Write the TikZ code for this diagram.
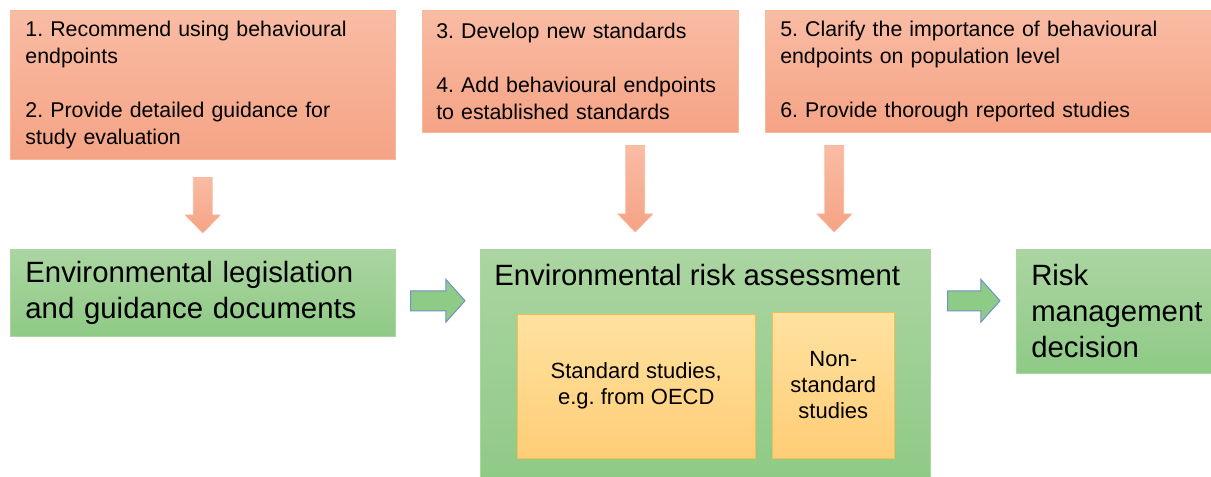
\documentclass[tikz,border=0pt]{standalone}
\usepackage{fontspec}
\setmainfont{Liberation Sans}
\frenchspacing
\usetikzlibrary{calc}

\definecolor{salmontop}{RGB}{249,188,164}
\definecolor{salmonbot}{RGB}{245,163,133}
\definecolor{salmonline}{RGB}{247,184,156}
\definecolor{greentop}{RGB}{171,213,161}
\definecolor{greenbot}{RGB}{143,202,134}
\definecolor{greenline}{RGB}{170,214,160}
\definecolor{ambertop}{RGB}{255,226,160}
\definecolor{amberbot}{RGB}{255,205,118}
\definecolor{amberline}{RGB}{246,190,82}
\definecolor{arrowgreen}{RGB}{141,203,134}
\definecolor{arrowblue}{RGB}{112,146,196}

\tikzset{
  topbox/.style={draw=salmonline, top color=salmontop, bottom color=salmonbot,
    anchor=north west, align=left, inner xsep=11.25pt, inner ysep=0pt,
    font=\fontsize{16}{20.25}\selectfont},
  greenbox/.style={draw=greenline, top color=greentop, bottom color=greenbot,
    anchor=north west, align=left, inner xsep=11.25pt, inner ysep=0pt,
    font=\fontsize{22}{27}\selectfont},
  studybox/.style={draw=amberline, top color=ambertop, bottom color=amberbot,
    anchor=north west, align=center, inner sep=0pt,
    font=\fontsize{16.5}{19.5}\selectfont},
  orangearrow/.style={draw=salmonline, top color=salmontop, bottom color=salmonbot, line width=0.5pt},
  greenarrow/.style={draw=arrowblue, fill=arrowgreen, line width=0.75pt}
}

% block arrows: #1 start, #2 tip
\newcommand{\blockdown}[2]{%
  \path[orangearrow] let \p1=(#1), \p2=(#2) in
    (\x1-7.1pt,\y1) -- (\x1+7.1pt,\y1) -- (\x1+7.1pt,\y2+13.5pt) -- (\x1+13.1pt,\y2+13.5pt)
    -- (\x1,\y2) -- (\x1-13.1pt,\y2+13.5pt) -- (\x1-7.1pt,\y2+13.5pt) -- cycle;}
\newcommand{\blockright}[2]{%
  \path[greenarrow] let \p1=(#1), \p2=(#2) in
    (\x1,\y1+7.5pt) -- (\x2-14.3pt,\y1+7.5pt) -- (\x2-14.3pt,\y1+16pt) -- (\x2,\y1)
    -- (\x2-14.3pt,\y1-16pt) -- (\x2-14.3pt,\y1-7.5pt) -- (\x1,\y1-7.5pt) -- cycle;}

\begin{document}
\begin{tikzpicture}[x=0.75pt,y=-0.75pt]
  \useasboundingbox (0,0) rectangle (1211,477);

  % recommendations
  \node[topbox, minimum width=288.75pt, minimum height=111.75pt, text width=266pt] (rec) at (10,10)
    {1. Recommend using behavioural\\endpoints\\[20.25pt]2. Provide detailed guidance for\\study evaluation};
  \node[topbox, minimum width=237pt, minimum height=91.5pt, text width=216pt, inner xsep=10.5pt] (std) at (422,10)
    {3. Develop new standards\\[20.25pt]4. Add behavioural endpoints\\to established standards};
  \node[topbox, minimum width=337.5pt, minimum height=91.5pt, text width=315pt] (pop) at (765,10)
    {5. Clarify the importance of behavioural\\endpoints on population level\\[20.25pt]6. Provide thorough reported studies};

  % process
  \node[greenbox, minimum width=288.75pt, minimum height=65.25pt, text width=266pt] (leg) at (10,249)
    {Environmental legislation\\and guidance documents};
  \node[greenbox, minimum width=337.5pt, minimum height=174pt] (era) at (480,249) {};
  \node[anchor=west, inner sep=0pt, font=\fontsize{22}{27}\selectfont] (title) at ($(era.north west)+(14,26)$)
    {Environmental risk assessment};
  \node[studybox, minimum width=178.5pt, minimum height=108pt] (oecd) at (517,314)
    {Standard studies,\\e.g. from OECD};
  \node[studybox, minimum width=91.5pt, minimum height=109.5pt] (nonstd) at (772,312)
    {Non-\\standard\\studies};
  \node[greenbox, minimum width=150pt, minimum height=93pt, text width=130pt] (rmd) at (1016,249)
    {Risk\\management\\decision};

  % arrows
  \coordinate (a1) at ($(rec.south)+(0,18)$);
  \coordinate (a1tip) at ($(leg.north)+(0,-16)$);
  \coordinate (a2) at ($(std.south)+(55,13)$);
  \coordinate (a2tip) at ($(era.north)+(-70,-17)$);
  \coordinate (a3) at ($(pop.south)+(-156,13)$);
  \coordinate (a3tip) at ($(era.north)+(129,-17)$);
  \blockdown{a1}{a1tip}
  \blockdown{a2}{a2tip}
  \blockdown{a3}{a3tip}

  \coordinate (b1) at ($(leg.east)+(15,8)$);
  \coordinate (b1tip) at ($(era.west)+(-15,0)$);
  \coordinate (b2) at ($(era.east)+(17,0)$);
  \coordinate (b2tip) at ($(rmd.west)+(-16,0)$);
  \blockright{b1}{b1tip}
  \path let \p1=(b2), \p2=(b1) in coordinate (b2s) at (\x1,\y2);
  \blockright{b2s}{b2tip}
\end{tikzpicture}
\end{document}
